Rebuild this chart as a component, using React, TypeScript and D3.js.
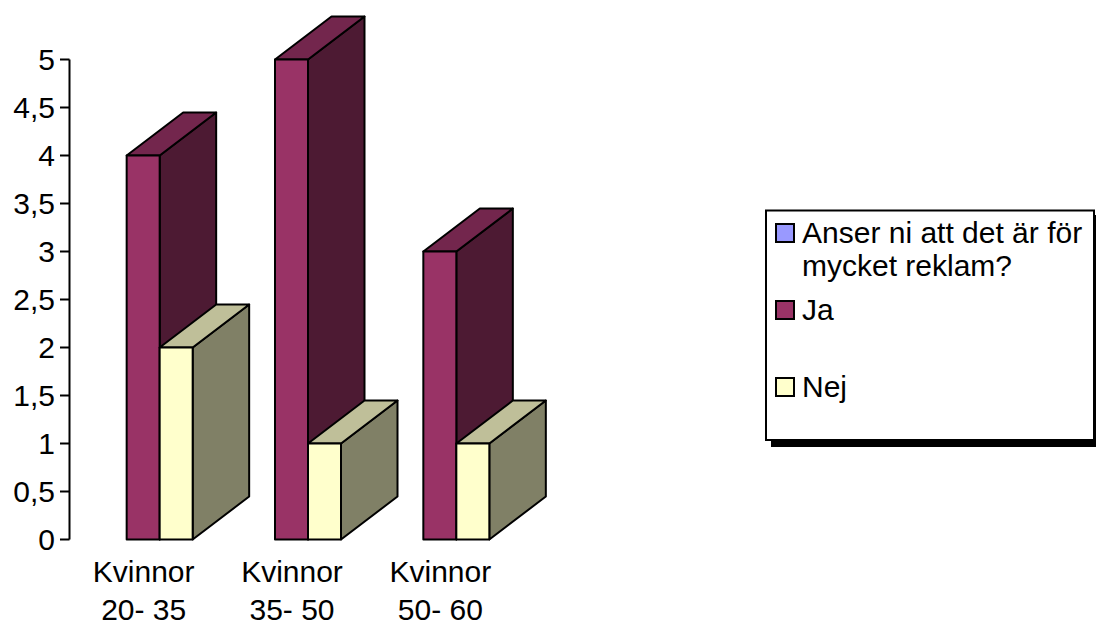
import React from "react";
import * as d3 from "d3";

const categoryLines = [["Kvinnor", "20- 35"], ["Kvinnor", "35- 50"], ["Kvinnor", "50- 60"]];
const categories = ["a", "b", "c"];
const jaValues = [4, 5, 3];
const nejValues = [2, 1, 1];
const yTicks = [0, 0.5, 1, 1.5, 2, 2.5, 3, 3.5, 4, 4.5, 5];

const JA = { front: "#993366", top: "#73264d", side: "#4d1a33" };
const NEJ = { front: "#ffffcc", top: "#bfbf99", side: "#808066" };
const QUESTION = "#9999ff";
const FONT = "'Liberation Sans', Arial, sans-serif";
const FONT_SIZE = 30;
const DEPTH_X = 56.5;
const DEPTH_Y = 43;

const y = d3.scaleLinear().domain([0, 5]).range([539.5, 59.5]);
const x = d3.scaleBand().domain(categories).range([84.5, 529.5]).paddingInner(0).paddingOuter(0);
const BAR = 33;

// One extruded column: side and top faces first, front face over them.
function Bar3D({ left, value, c }: { left: number; value: number; c: typeof JA }) {
  const r = left + BAR;
  const t = y(value);
  const b = y(0);
  const poly = (pts: number[][]) => {
    const p = d3.path();
    pts.forEach(([a, d], i) => (i ? p.lineTo(a, d) : p.moveTo(a, d)));
    p.closePath();
    return p.toString();
  };
  const common = { stroke: "#000", strokeWidth: 2, strokeLinejoin: "round" as const };
  return (
    <g>
      <path d={poly([[r, t], [r + DEPTH_X, t - DEPTH_Y], [r + DEPTH_X, b - DEPTH_Y], [r, b]])} fill={c.side} {...common} />
      <path d={poly([[left, t], [left + DEPTH_X, t - DEPTH_Y], [r + DEPTH_X, t - DEPTH_Y], [r, t]])} fill={c.top} {...common} />
      <path d={poly([[left, t], [r, t], [r, b], [left, b]])} fill={c.front} {...common} />
    </g>
  );
}

function Swatch({ top, fill }: { top: number; fill: string }) {
  return <rect x={776} y={top} width={18} height={18} fill={fill} stroke="#000" strokeWidth={2} />;
}

export default function App() {
  return (
    <svg width={1096} height={624} style={{ position: "absolute", left: 0, top: 0, background: "#fff" }} fontFamily={FONT} fill="#000">
      {/* value axis */}
      <line x1={69.5} x2={69.5} y1={y(5)} y2={y(0)} stroke="#000" strokeWidth={2} />
      {yTicks.map((v) => (
        <g key={v}>
          <line x1={60} x2={69.5} y1={y(v)} y2={y(v)} stroke="#000" strokeWidth={2} />
          <text x={55} y={y(v) + 10} fontSize={FONT_SIZE} textAnchor="end">
            {String(v).replace(".", ",")}
          </text>
        </g>
      ))}

      {/* columns */}
      {categories.map((cat, i) => {
        const cx = (x(cat) as number) + x.bandwidth() / 2 - 33 + 1;
        return (
          <g key={cat}>
            <Bar3D left={cx} value={jaValues[i]} c={JA} />
            <Bar3D left={cx + BAR} value={nejValues[i]} c={NEJ} />
            {categoryLines[i].map((line, k) => (
              <text key={k} x={cx + BAR - 16} y={582 + k * 37.5} fontSize={FONT_SIZE} textAnchor="middle">
                {line}
              </text>
            ))}
          </g>
        );
      })}

      {/* legend */}
      <rect x={771} y={215} width={328} height={232} fill="#000" />
      <rect x={766} y={210.5} width={328} height={229.5} fill="#fff" stroke="#000" strokeWidth={2} />
      <Swatch top={224} fill={QUESTION} />
      <Swatch top={301} fill={JA.front} />
      <Swatch top={378} fill={NEJ.front} />
      <g fontSize={FONT_SIZE}>
        <text x={802} y={243}>Anser ni att det är för</text>
        <text x={802} y={276}>mycket reklam?</text>
        <text x={802} y={319.5}>Ja</text>
        <text x={802} y={396.5}>Nej</text>
      </g>
    </svg>
  );
}
